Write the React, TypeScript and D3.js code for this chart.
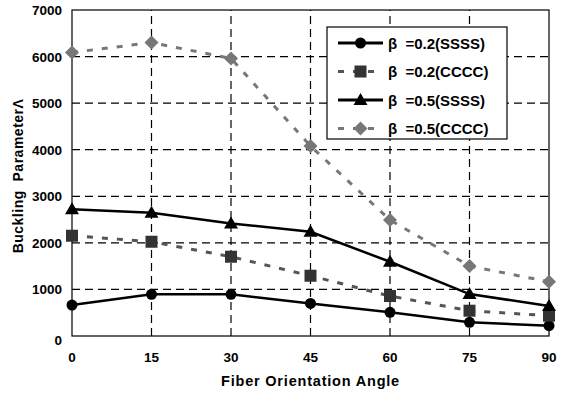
import React from "react";
import * as d3 from "d3";

const angles = [0, 15, 30, 45, 60, 75, 90];
const yTicks = [0, 1000, 2000, 3000, 4000, 5000, 6000, 7000];

const ssss02 = [665, 895, 895, 700, 508, 293, 222];
const cccc02 = [2153, 2024, 1702, 1294, 858, 543, 436];
const ssss05 = [2720, 2646, 2418, 2238, 1594, 901, 644];
const cccc05 = [6088, 6300, 5960, 4080, 2490, 1502, 1165];

const series = [
  { label: "β\u00a0\u00a0=0.2(SSSS)", values: ssss02, color: "#000", dash: null, marker: "circle", markColor: "#000" },
  { label: "β\u00a0\u00a0=0.2(CCCC)", values: cccc02, color: "#555", dash: "6,9", marker: "square", markColor: "#333" },
  { label: "β\u00a0\u00a0=0.5(SSSS)", values: ssss05, color: "#000", dash: null, marker: "triangle", markColor: "#000" },
  { label: "β\u00a0\u00a0=0.5(CCCC)", values: cccc05, color: "#777", dash: "6,9", marker: "diamond", markColor: "#777" },
];

const W = 565;
const H = 394;
const margin = { top: 10, right: 16, bottom: 58, left: 72 };

const Marker = ({ type, x, y, fill }: { type: string; x: number; y: number; fill: string }) => {
  if (type === "circle") return <circle cx={x} cy={y} r={5.5} fill={fill} />;
  if (type === "square") return <rect x={x - 6} y={y - 6} width={12} height={12} fill={fill} />;
  if (type === "triangle") return <path d={`M${x},${y - 7}L${x + 7},${y + 5}L${x - 7},${y + 5}Z`} fill={fill} />;
  return <path d={`M${x},${y - 7}L${x + 7},${y}L${x},${y + 7}L${x - 7},${y}Z`} fill={fill} />;
};

export default function App() {
  const x = d3.scaleLinear().domain([0, 90]).range([margin.left, W - margin.right]);
  const y = d3.scaleLinear().domain([0, 7000]).range([H - margin.bottom, margin.top]);
  const line = d3
    .line<number>()
    .x((_, i) => x(angles[i]))
    .y((d) => y(d));

  const font = "Arial, 'Liberation Sans', sans-serif";
  const legX = 327;
  const legY = 27;

  return (
    <svg width={W} height={H} style={{ position: "absolute", left: 0, top: 0 }} fontFamily={font}>
      <rect width={W} height={H} fill="#fff" />
      {/* grid */}
      {yTicks.slice(1, -1).map((t) => (
        <line key={"gy" + t} x1={x(0)} x2={x(90)} y1={y(t)} y2={y(t)} stroke="#000" strokeWidth={1.2} strokeDasharray="8,5" />
      ))}
      {angles.slice(1, -1).map((a) => (
        <line key={"gx" + a} x1={x(a)} x2={x(a)} y1={y(0)} y2={y(7000)} stroke="#000" strokeWidth={1.2} strokeDasharray="8,5" />
      ))}
      <rect x={x(0)} y={y(7000)} width={x(90) - x(0)} height={y(0) - y(7000)} fill="none" stroke="#000" strokeWidth={1.2} />
      {/* y ticks */}
      {yTicks.map((t) => (
        <text key={"yt" + t} x={62} y={y(t) + 5 + (t === 0 ? 4 : 0)} textAnchor="end" fontSize={13.5} fontWeight="bold">
          {t}
        </text>
      ))}
      {angles.map((a) => (
        <text key={"xt" + a} x={x(a)} y={362} textAnchor="middle" fontSize={13.5} fontWeight="bold">
          {a}
        </text>
      ))}
      <text x={x(45)} y={386} textAnchor="middle" fontSize={14.5} fontWeight="bold" letterSpacing={0.8}>
        Fiber Orientation Angle
      </text>
      <text transform={`translate(23,${y(3500) + 3}) rotate(-90)`} textAnchor="middle" fontSize={14} fontWeight="bold" letterSpacing={0.5}>
        {"Buckling\u00a0\u00a0ParameterΛ"}
      </text>
      {/* series */}
      {series.map((s) => (
        <g key={s.label}>
          <path d={line(s.values) || ""} fill="none" stroke={s.color} strokeWidth={s.dash ? 3 : 2.5} strokeDasharray={s.dash || undefined} />
          {s.values.map((v, i) => (
            <Marker key={i} type={s.marker} x={x(angles[i])} y={y(v)} fill={s.markColor} />
          ))}
        </g>
      ))}
      {/* legend */}
      <rect x={legX} y={legY} width={180} height={112} fill="#fff" stroke="#000" strokeWidth={1.2} />
      {series.map((s, i) => {
        const ly = legY + 16 + i * 28.5;
        return (
          <g key={"lg" + s.label}>
            <line x1={legX + 11} x2={legX + 56} y1={ly} y2={ly} stroke={s.color} strokeWidth={3} strokeDasharray={s.dash ? "6,9" : undefined} />
            <Marker type={s.marker} x={legX + 33.5} y={ly} fill={s.markColor} />
            <text x={legX + 61} y={ly + 5.5} fontSize={15} fontWeight="bold">
              {s.label}
            </text>
          </g>
        );
      })}
    </svg>
  );
}
